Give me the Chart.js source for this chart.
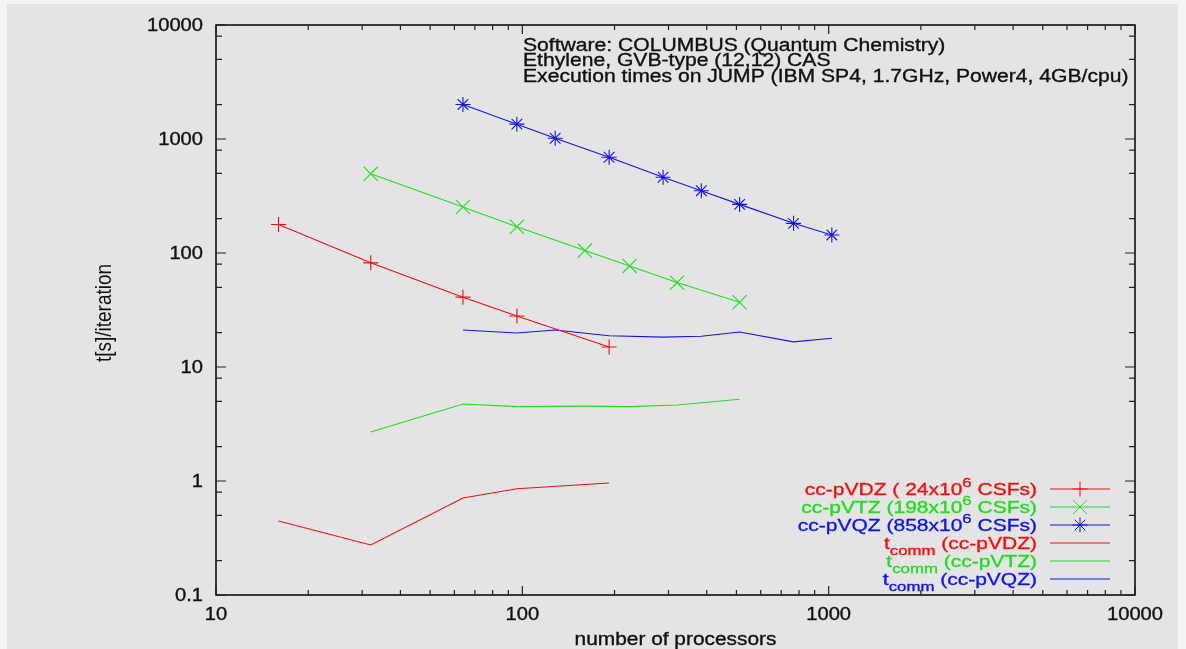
<!DOCTYPE html>
<html>
<head>
<meta charset="utf-8">
<script src="https://cdn.jsdelivr.net/npm/chart.js@4/dist/chart.umd.min.js"></script>
<style>
  html, body { margin: 0; padding: 0; background: #f4f4f4; }
  canvas { display: block; }
</style>
</head>
<body>
<canvas id="c" width="1186" height="649"></canvas>
<script>
// ---- data ----
const procVDZ = [16, 32, 64, 96, 192];
const timeVDZ = [178, 82, 41, 28, 15];
const procVTZ = [32, 64, 96, 160, 224, 320, 512];
const timeVTZ = [495, 253, 170, 105, 77, 55, 37];
const procVQZ = [64, 96, 128, 192, 288, 384, 512, 768, 1024];
const timeVQZ = [2010, 1350, 1015, 692, 462, 352, 267, 182, 144];
const commVDZ = [0.445, 0.275, 0.71, 0.855, 0.96];
const commVTZ = [2.69, 4.74, 4.49, 4.54, 4.49, 4.64, 5.21];
const commVQZ = [21.1, 19.9, 21.1, 18.8, 18.3, 18.6, 20.3, 16.6, 17.9];

const xTickValues = [10, 100, 1000, 10000];
const xTickLabels = ['10', '100', '1000', '10000'];
const yTickValues = [0.1, 1, 10, 100, 1000, 10000];
const yTickLabels = ['0.1', '1', '10', '100', '1000', '10000'];
const xMinorMult = [2, 3, 4, 5, 6, 7, 8, 9];
const yMinorMult = [2, 5, 8];

const titleLines = [
  'Software: COLUMBUS (Quantum Chemistry)',
  'Ethylene, GVB-type (12,12) CAS',
  'Execution times on JUMP (IBM SP4, 1.7GHz, Power4, 4GB/cpu)'
];
const xTitle = 'number of processors';
const yTitle = 't[s]/iteration';

const RED = '#f01010', GREEN = '#22dd22', BLUE = '#1414ee';

// legend entries: text parts (sup / sub)
const legendItems = [
  { parts: [{t: 'cc-pVDZ ( 24x10'}, {t: '6', sup: true}, {t: ' CSFs)'}], color: RED, marker: 'cross' },
  { parts: [{t: 'cc-pVTZ (198x10'}, {t: '6', sup: true}, {t: ' CSFs)'}], color: GREEN, marker: 'crossRot' },
  { parts: [{t: 'cc-pVQZ (858x10'}, {t: '6', sup: true}, {t: ' CSFs)'}], color: BLUE, marker: 'star' },
  { parts: [{t: 't'}, {t: 'comm', sub: true}, {t: ' (cc-pVDZ)'}], color: RED, marker: null },
  { parts: [{t: 't'}, {t: 'comm', sub: true}, {t: ' (cc-pVTZ)'}], color: GREEN, marker: null },
  { parts: [{t: 't'}, {t: 'comm', sub: true}, {t: ' (cc-pVQZ)'}], color: BLUE, marker: null }
];

function pts(xs, ys) { return xs.map((x, i) => ({x: x, y: ys[i]})); }

function stretchedText(ctx, text, x, y, size, sx, align, font) {
  ctx.save();
  ctx.font = size + 'px ' + (font || '"Liberation Sans", Arial, sans-serif');
  ctx.textAlign = align || 'left';
  ctx.textBaseline = 'alphabetic';
  ctx.translate(x, y);
  ctx.scale(sx, 1);
  ctx.fillText(text, 0, 0);
  ctx.lineWidth = 0.35;
  ctx.strokeStyle = ctx.fillStyle;
  ctx.strokeText(text, 0, 0);
  ctx.restore();
}

function drawMarker(ctx, type, x, y, r) {
  ctx.beginPath();
  if (type === 'cross' || type === 'star') {
    ctx.moveTo(x - r, y); ctx.lineTo(x + r, y);
    ctx.moveTo(x, y - r); ctx.lineTo(x, y + r);
  }
  if (type === 'crossRot' || type === 'star') {
    const d = r * Math.SQRT1_2;
    ctx.moveTo(x - d, y - d); ctx.lineTo(x + d, y + d);
    ctx.moveTo(x - d, y + d); ctx.lineTo(x + d, y - d);
  }
  ctx.stroke();
}

const decor = {
  id: 'decor',
  beforeDraw(chart) {
    const ctx = chart.ctx;
    ctx.save();
    ctx.fillStyle = '#f4f4f4';
    ctx.fillRect(0, 0, chart.width, chart.height);
    ctx.fillStyle = '#e4e4e4';
    ctx.fillRect(7, 4, 1171, 645);
    ctx.restore();
  },
  afterDraw(chart) {
    const ctx = chart.ctx;
    const xs = chart.scales.x, ys = chart.scales.y;
    const a = chart.chartArea;
    ctx.save();
    // frame
    ctx.strokeStyle = '#000';
    ctx.lineWidth = 1.5;
    ctx.strokeRect(a.left, a.top, a.right - a.left, a.bottom - a.top);
    // ticks
    ctx.lineWidth = 1.2;
    ctx.strokeStyle = '#222';
    ctx.beginPath();
    xTickValues.forEach((v, i) => {
      const p = xs.getPixelForValue(v);
      ctx.moveTo(p, a.bottom); ctx.lineTo(p, a.bottom - 9);
      ctx.moveTo(p, a.top); ctx.lineTo(p, a.top + 9);
      if (i < xTickValues.length - 1) {
        xMinorMult.forEach(m => {
          const q = xs.getPixelForValue(v * m);
          ctx.moveTo(q, a.bottom); ctx.lineTo(q, a.bottom - 5);
          ctx.moveTo(q, a.top); ctx.lineTo(q, a.top + 5);
        });
      }
    });
    yTickValues.forEach((v, i) => {
      const p = ys.getPixelForValue(v);
      ctx.moveTo(a.left, p); ctx.lineTo(a.left + 10, p);
      ctx.moveTo(a.right, p); ctx.lineTo(a.right - 10, p);
      if (i < yTickValues.length - 1) {
        yMinorMult.forEach(m => {
          const q = ys.getPixelForValue(v * m);
          ctx.moveTo(a.left, q); ctx.lineTo(a.left + 6, q);
          ctx.moveTo(a.right, q); ctx.lineTo(a.right - 6, q);
        });
      }
    });
    ctx.stroke();

    // tick labels
    ctx.fillStyle = '#111';
    xTickValues.forEach((v, i) => {
      stretchedText(ctx, xTickLabels[i], xs.getPixelForValue(v), 620, 17.5, 1.15, 'center');
    });
    yTickValues.forEach((v, i) => {
      stretchedText(ctx, yTickLabels[i], 203, ys.getPixelForValue(v) + 6.3, 17.5, 1.15, 'right');
    });

    // axis titles
    stretchedText(ctx, xTitle, (a.left + a.right) / 2, 645, 18, 1.16, 'center');
    ctx.save();
    ctx.translate(111, 313);
    ctx.rotate(-Math.PI / 2);
    ctx.font = '19px "Liberation Sans", Arial, sans-serif';
    ctx.textAlign = 'center';
    ctx.textBaseline = 'alphabetic';
    ctx.scale(1, 1.15);
    ctx.fillText(yTitle, 0, 0);
    ctx.restore();

    // title lines
    const baseY = [50.5, 66, 81.5];
    ctx.fillStyle = '#111';
    titleLines.forEach((t, i) => stretchedText(ctx, t, 523, baseY[i], 18, 1.173, 'left'));

    // legend
    const rowY = [489, 507, 525, 543, 561, 579];
    const fs = 17, sx = 1.235;
    legendItems.forEach((it, i) => {
      const cy = rowY[i];
      const base = cy + 6;
      ctx.fillStyle = it.color;
      let total = 0;
      const widths = it.parts.map(p => {
        const size = (p.sup || p.sub) ? fs * 0.8 : fs;
        ctx.font = size + 'px "Liberation Sans", Arial, sans-serif';
        const w = ctx.measureText(p.t).width * sx;
        total += w;
        return w;
      });
      let x = 1037 - total;
      it.parts.forEach((p, j) => {
        const size = (p.sup || p.sub) ? fs * 0.8 : fs;
        const dy = p.sup ? -8 : (p.sub ? 6 : 0);
        stretchedText(ctx, p.t, x, base + dy, size, sx, 'left');
        x += widths[j];
      });
      ctx.strokeStyle = it.color;
      ctx.lineWidth = 1;
      ctx.beginPath();
      ctx.moveTo(1050, cy); ctx.lineTo(1110, cy);
      ctx.stroke();
      if (it.marker) drawMarker(ctx, it.marker, 1080, cy, it.marker === 'crossRot' ? 10 : 7.5);
    });
    ctx.restore();
  }
};

function ds(label, xsArr, ysArr, color, style, radius) {
  return {
    label: label,
    data: pts(xsArr, ysArr),
    borderColor: color,
    backgroundColor: color,
    borderWidth: 1.1,
    pointStyle: style || 'circle',
    pointRadius: style ? radius : 0,
    pointHoverRadius: style ? radius : 0,
    pointBorderWidth: 1.1,
    pointBorderColor: color,
    tension: 0,
    fill: false
  };
}

new Chart(document.getElementById('c'), {
  type: 'line',
  data: {
    datasets: [
      ds('cc-pVDZ', procVDZ, timeVDZ, RED, 'cross', 7.5),
      ds('cc-pVTZ', procVTZ, timeVTZ, GREEN, 'crossRot', 10),
      ds('cc-pVQZ', procVQZ, timeVQZ, BLUE, 'star', 7.5),
      ds('tcomm cc-pVDZ', procVDZ, commVDZ, RED, null, 0),
      ds('tcomm cc-pVTZ', procVTZ, commVTZ, GREEN, null, 0),
      ds('tcomm cc-pVQZ', procVQZ, commVQZ, BLUE, null, 0)
    ]
  },
  options: {
    responsive: false,
    animation: false,
    events: [],
    layout: { padding: { left: 216, right: 51, top: 25, bottom: 54 } },
    plugins: { legend: { display: false }, tooltip: { enabled: false }, title: { display: false } },
    scales: {
      x: { type: 'logarithmic', min: 10, max: 10000, display: false },
      y: { type: 'logarithmic', min: 0.1, max: 10000, display: false }
    }
  },
  plugins: [decor]
});
</script>
</body>
</html>
